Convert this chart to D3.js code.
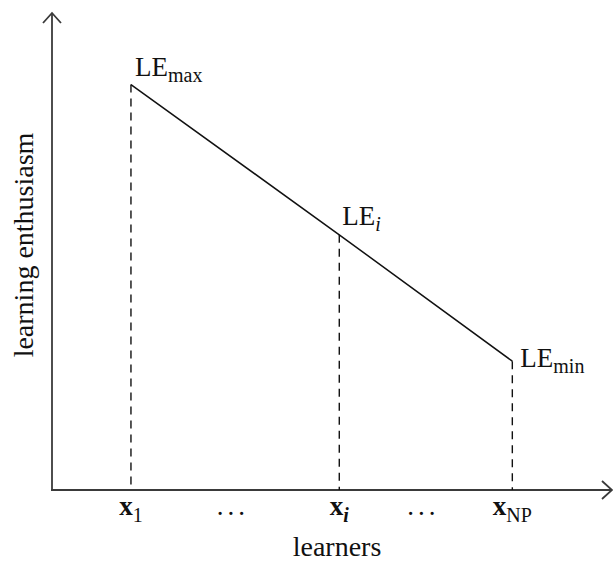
<!DOCTYPE html>
<html>
<head>
<meta charset="utf-8">
<script src="https://cdn.jsdelivr.net/npm/d3@7"></script>
<style>
  html, body { margin: 0; padding: 0; background: #fff; }
  svg { display: block; }
  text { font-family: "Liberation Serif", "Times New Roman", serif; fill: #111; }
</style>
</head>
<body>
<svg id="chart" width="613" height="563"></svg>
<script>
// ---- data ----
const learners = ["x1", "xi", "xNP"];
const learnerPos = [14.1, 51.3, 82.2];    // position along the learners axis
const enthusiasm = [85, 53.5, 27];        // learning enthusiasm values
const pointLabels = ["max", "i", "min"];  // LE subscripts
const tickSubs = ["1", "i", "NP"];        // x tick subscripts
const ellipsisPos = [32.3, 66.3];         // "…" between learners
const xTitle = "learners";
const yTitle = "learning enthusiasm";

const svg = d3.select("#chart");
const x = d3.scaleLinear().domain([0, 100]).range([52, 612]);
const y = d3.scaleLinear().domain([0, 100]).range([490, 13]);

const axisColor = "#3a3a3a";

// axes
svg.append("line").attr("x1", x(0)).attr("x2", x(0)).attr("y1", y(0)).attr("y2", y(100))
  .attr("stroke", axisColor).attr("stroke-width", 1.8);
svg.append("line").attr("x1", x(0) - 1).attr("x2", x(100)).attr("y1", y(0)).attr("y2", y(0))
  .attr("stroke", axisColor).attr("stroke-width", 1.8);
// arrowheads (open chevrons)
svg.append("path")
  .attr("d", `M${x(0)-9},${y(100)+10} L${x(0)},${y(100)} L${x(0)+9},${y(100)+10}`)
  .attr("fill", "none").attr("stroke", axisColor).attr("stroke-width", 1.8);
svg.append("path")
  .attr("d", `M${x(100)-10},${y(0)-9} L${x(100)},${y(0)} L${x(100)-10},${y(0)+9}`)
  .attr("fill", "none").attr("stroke", axisColor).attr("stroke-width", 1.8);

// dashed droplines
const pts = learnerPos.map((p, i) => ({ p, v: enthusiasm[i], lab: pointLabels[i], sub: tickSubs[i] }));
svg.selectAll("line.drop").data(pts).enter().append("line")
  .attr("class", "drop")
  .attr("x1", d => x(d.p)).attr("x2", d => x(d.p))
  .attr("y1", d => y(d.v)).attr("y2", y(0))
  .attr("stroke", "#111").attr("stroke-width", 1.4)
  .attr("stroke-dasharray", "8,6");

// main line
svg.append("path").datum(pts)
  .attr("d", d3.line().x(d => x(d.p)).y(d => y(d.v)))
  .attr("fill", "none").attr("stroke", "#111").attr("stroke-width", 1.5);

// LE labels
const labOffsets = [{dx: 4, dy: -9}, {dx: 3, dy: -10}, {dx: 8, dy: 6}];
pts.forEach((d, i) => {
  const t = svg.append("text")
    .attr("x", x(d.p) + labOffsets[i].dx)
    .attr("y", y(d.v) + labOffsets[i].dy)
    .attr("font-size", 27);
  t.append("tspan").text("LE");
  const sub = t.append("tspan").attr("dy", 6).attr("font-size", 20).text(d.lab);
  if (d.lab === "i") sub.attr("font-style", "italic");
});

// tick labels (bold x with subscripts)
pts.forEach((d) => {
  const t = svg.append("text")
    .attr("x", x(d.p))
    .attr("y", 515)
    .attr("text-anchor", "middle")
    .attr("font-size", 27);
  t.append("tspan").attr("font-weight", "bold").text("x");
  const s = t.append("tspan").attr("dy", 7).attr("font-size", 20).text(d.sub);
  if (d.sub === "i") s.attr("font-style", "italic").attr("font-weight", "bold");
});
svg.selectAll("text.ell").data(ellipsisPos).enter().append("text")
  .attr("class", "ell")
  .attr("x", d => x(d)).attr("y", 515)
  .attr("text-anchor", "middle").attr("font-size", 27)
  .attr("letter-spacing", 4)
  .text("...");

// axis titles
svg.append("text").attr("x", 337).attr("y", 556)
  .attr("text-anchor", "middle").attr("font-size", 28).text(xTitle);
svg.append("text")
  .attr("transform", "translate(33,245) rotate(-90)")
  .attr("text-anchor", "middle").attr("font-size", 28).text(yTitle);
</script>
</body>
</html>
